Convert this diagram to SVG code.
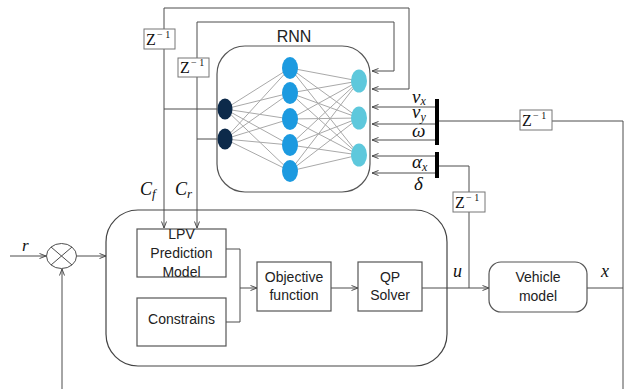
<svg xmlns="http://www.w3.org/2000/svg" width="633" height="389" viewBox="0 0 633 389">
  <style>
    .ln { fill: none; stroke: #4d4d4d; stroke-width: 1; }
    .box { fill: #ffffff; stroke: #555555; stroke-width: 1.2; }
    .zbox { fill: #ffffff; stroke: #777777; stroke-width: 1; }
    .nn { stroke: #a9a9a9; stroke-width: 1; fill: none; }
    .lbl { font-family: "Liberation Sans", Arial, sans-serif; font-size: 14px; fill: #222222; text-anchor: middle; }
    .math { font-family: "Liberation Serif", "Times New Roman", serif; font-style: italic; fill: #111111; }
    .z { font-family: "Liberation Serif", "Times New Roman", serif; font-size: 16px; fill: #111111; }
    .sup { font-size: 10px; }
    .bar { fill: #000000; }
  </style>
  <defs>
    <marker id="arr" viewBox="0 0 8 8" refX="7.5" refY="4" markerWidth="8" markerHeight="8" markerUnits="userSpaceOnUse" orient="auto">
      <path d="M1,1.5 L7.5,4 L1,6.5" fill="none" stroke="#4d4d4d" stroke-width="1"/>
    </marker>
  </defs>

  <!-- connectors -->
  <g id="connectors">
    <!-- delayed feedback loops into the network -->
    <path class="ln" d="M164,8 H409 V89 H372" marker-end="url(#arr)"/>
    <path class="ln" d="M164,8 V228" marker-end="url(#arr)"/>
    <path class="ln" d="M197,22 H394 V71 H372" marker-end="url(#arr)"/>
    <path class="ln" d="M197,22 V228" marker-end="url(#arr)"/>
    <path class="ln" d="M164,109 H218"/>
    <path class="ln" d="M197,139 H218"/>
    <!-- vehicle states into the network -->
    <path class="ln" d="M435,107 H372" marker-end="url(#arr)"/>
    <path class="ln" d="M435,124 H372" marker-end="url(#arr)"/>
    <path class="ln" d="M435,140 H372" marker-end="url(#arr)"/>
    <path class="ln" d="M435,156 H372" marker-end="url(#arr)"/>
    <path class="ln" d="M435,173 H372" marker-end="url(#arr)"/>
    <!-- state and input feedback -->
    <path class="ln" d="M439,121 H623 V389"/>
    <path class="ln" d="M439,166 H469 V288"/>
    <!-- main signal path -->
    <path class="ln" d="M10,256 H46" marker-end="url(#arr)"/>
    <path class="ln" d="M77,256 H106" marker-end="url(#arr)"/>
    <path class="ln" d="M62,389 V269" marker-end="url(#arr)"/>
    <path class="ln" d="M226,249 H240 V322 H226"/>
    <path class="ln" d="M240,288 H257" marker-end="url(#arr)"/>
    <path class="ln" d="M331,288 H358" marker-end="url(#arr)"/>
    <path class="ln" d="M422,288 H489" marker-end="url(#arr)"/>
    <path class="ln" d="M587,288 H623"/>
  </g>

  <!-- RNN block -->
  <g id="rnn">
    <rect x="217" y="46" width="153" height="146" rx="28" fill="#ffffff" stroke="#555555" stroke-width="1.2"/>
    <text class="lbl" x="294" y="42" style="font-size:16px">RNN</text>
    <g id="rnn-edges">
      <path class="nn" d="M225,109 L290,68 M225,109 L290,93 M225,109 L290,119 M225,109 L290,145 M225,109 L290,171
                          M225,139 L290,68 M225,139 L290,93 M225,139 L290,119 M225,139 L290,145 M225,139 L290,171"/>
      <path class="nn" d="M290,68 L359,81 M290,68 L359,118 M290,68 L359,155
                          M290,93 L359,81 M290,93 L359,118 M290,93 L359,155
                          M290,119 L359,81 M290,119 L359,118 M290,119 L359,155
                          M290,145 L359,81 M290,145 L359,118 M290,145 L359,155
                          M290,171 L359,81 M290,171 L359,118 M290,171 L359,155"/>
    </g>
    <g id="rnn-input-layer" fill="#0d2a4a">
      <ellipse cx="225" cy="109" rx="7.5" ry="10.5"/>
      <ellipse cx="225" cy="139" rx="7.5" ry="10.5"/>
    </g>
    <g id="rnn-hidden-layer" fill="#1c9ae0">
      <ellipse cx="290" cy="68" rx="8" ry="11"/>
      <ellipse cx="290" cy="93" rx="8" ry="11"/>
      <ellipse cx="290" cy="119" rx="8" ry="11"/>
      <ellipse cx="290" cy="145" rx="8" ry="11"/>
      <ellipse cx="290" cy="171" rx="8" ry="11"/>
    </g>
    <g id="rnn-output-layer" fill="#5ec8dc">
      <ellipse cx="359" cy="81" rx="8" ry="11.5"/>
      <ellipse cx="359" cy="118" rx="8" ry="11.5"/>
      <ellipse cx="359" cy="155" rx="8" ry="11.5"/>
    </g>
  </g>

  <!-- unit delays -->
  <g id="delay-cf">
    <rect class="zbox" x="144" y="29" width="31" height="20"/>
    <text class="z" x="146" y="45">Z<tspan class="sup" x="157" y="38">− 1</tspan></text>
  </g>
  <g id="delay-cr">
    <rect class="zbox" x="178" y="58" width="31" height="19"/>
    <text class="z" x="180" y="73">Z<tspan class="sup" x="191" y="66">− 1</tspan></text>
  </g>
  <g id="delay-x">
    <rect class="zbox" x="520" y="110" width="32" height="20"/>
    <text class="z" x="522" y="126">Z<tspan class="sup" x="533" y="119">− 1</tspan></text>
  </g>
  <g id="delay-u">
    <rect class="zbox" x="453" y="192" width="32" height="20"/>
    <text class="z" x="455" y="208">Z<tspan class="sup" x="466" y="201">− 1</tspan></text>
  </g>

  <!-- signal bundles -->
  <g id="bus-states">
    <rect class="bar" x="435" y="99" width="4" height="46"/>
    <text class="math" x="412" y="103" font-size="19">v<tspan font-size="12" dy="2">x</tspan></text>
    <text class="math" x="412" y="118" font-size="19">v<tspan font-size="12" dy="3">y</tspan></text>
    <text class="math" x="412" y="137" font-size="19">ω</text>
  </g>
  <g id="bus-inputs">
    <rect class="bar" x="435" y="152" width="4" height="26"/>
    <text class="math" x="412" y="168" font-size="19">α<tspan font-size="12" dy="3">x</tspan></text>
    <text class="math" x="414" y="190" font-size="19">δ</text>
  </g>

  <!-- parameter labels -->
  <g id="labels">
    <text class="math" x="140" y="195" font-size="18">C<tspan font-size="13" dy="3">f</tspan></text>
    <text class="math" x="175" y="195" font-size="18">C<tspan font-size="13" dy="3">r</tspan></text>
    <text class="math" x="22" y="251" font-size="17">r</text>
    <text class="math" x="453" y="277" font-size="18">u</text>
    <text class="math" x="601" y="277" font-size="18">x</text>
  </g>

  <!-- summing junction -->
  <g id="sum">
    <ellipse cx="61.5" cy="256" rx="15" ry="12.5" fill="#ffffff" stroke="#4d4d4d" stroke-width="1"/>
    <path class="ln" d="M51,247 L72,265 M72,247 L51,265"/>
  </g>

  <!-- MPC controller -->
  <g id="controller">
    <rect x="106" y="210" width="341" height="156" rx="32" fill="none" stroke="#444444" stroke-width="1.2"/>
  </g>
  <g id="lpv-model">
    <rect class="box" x="137" y="229" width="89" height="48"/>
    <text class="lbl" x="181.5" y="239">LPV</text>
    <text class="lbl" x="181.5" y="258">Prediction</text>
    <text class="lbl" x="181.5" y="277">Model</text>
  </g>
  <g id="constraints">
    <rect class="box" x="137" y="298" width="89" height="48"/>
    <text class="lbl" x="181.5" y="324">Constrains</text>
  </g>
  <g id="objective">
    <rect class="box" x="257" y="262" width="74" height="49"/>
    <text class="lbl" x="294" y="282">Objective</text>
    <text class="lbl" x="294" y="300">function</text>
  </g>
  <g id="qp-solver">
    <rect class="box" x="358" y="262" width="64" height="49"/>
    <text class="lbl" x="390" y="282">QP</text>
    <text class="lbl" x="390" y="300">Solver</text>
  </g>
  <g id="vehicle">
    <rect class="box" x="489" y="262" width="98" height="50" rx="12"/>
    <text class="lbl" x="538" y="282">Vehicle</text>
    <text class="lbl" x="538" y="301">model</text>
  </g>
</svg>
